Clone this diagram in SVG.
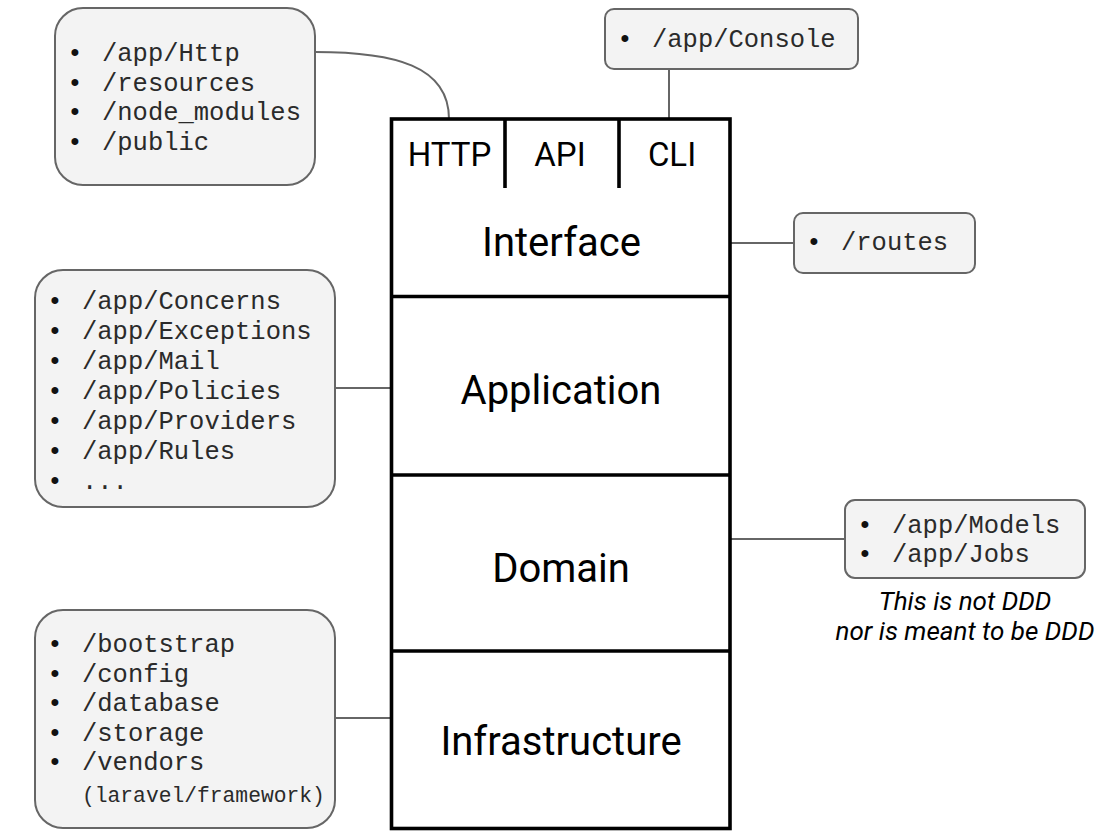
<svg xmlns="http://www.w3.org/2000/svg" width="1116" height="834" viewBox="0 0 1116 834">
  <style>
    .box { fill:#f3f3f3; stroke:#666666; stroke-width:2; }
    .conn { fill:none; stroke:#666666; stroke-width:2; }
    .frame { fill:#ffffff; stroke:#000000; stroke-width:3.6; }
    .div { fill:none; stroke:#000000; stroke-width:3.6; }
    .mono { font-family:"Liberation Mono","Courier New",monospace; font-size:25.5px; fill:#2a2a2a; }
    .small { font-size:21.3px; }
    .bul { font-family:"Liberation Mono","Courier New",monospace; font-size:25.5px; fill:#111111; text-anchor:middle; }
    .layer { font-family:Roboto,"Liberation Sans",sans-serif; font-size:40px; fill:#000000; text-anchor:middle; }
    .tab { font-family:Roboto,"Liberation Sans",sans-serif; font-size:33px; fill:#000000; text-anchor:middle; }
    .note { font-family:Roboto,"Liberation Sans",sans-serif; font-style:italic; font-size:26px; fill:#000000; text-anchor:middle; }
  </style>

  <g id="connectors">
    <path class="conn" d="M315,52 C395,52 449,66 449,119"/>
    <path class="conn" d="M669,69 V119"/>
    <path class="conn" d="M730,243 H794"/>
    <path class="conn" d="M335,388 H391"/>
    <path class="conn" d="M730,539 H845"/>
    <path class="conn" d="M335,718 H391"/>
  </g>

  <g id="stack">
    <rect class="frame" x="391.5" y="119" width="338.5" height="709.5"/>
    <line class="div" x1="505" y1="119" x2="505" y2="188"/>
    <line class="div" x1="619" y1="119" x2="619" y2="188"/>
    <line class="div" x1="391.5" y1="296.5" x2="730" y2="296.5"/>
    <line class="div" x1="391.5" y1="475" x2="730" y2="475"/>
    <line class="div" x1="391.5" y1="651" x2="730" y2="651"/>
  </g>

  <g id="tab-http"><text class="tab" x="449.5" y="166">HTTP</text></g>
  <g id="tab-api"><text class="tab" x="560" y="166">API</text></g>
  <g id="tab-cli"><text class="tab" x="672" y="166">CLI</text></g>
  <g id="layer-interface"><text class="layer" x="561.5" y="256">Interface</text></g>
  <g id="layer-application"><text class="layer" x="561" y="404">Application</text></g>
  <g id="layer-domain"><text class="layer" x="561" y="582">Domain</text></g>
  <g id="layer-infrastructure"><text class="layer" x="561" y="755">Infrastructure</text></g>

  <g id="box-http">
    <rect class="box" x="55" y="8" width="260" height="177" rx="28"/>
    <text class="bul" x="75" y="61">•</text>
    <text class="bul" x="75" y="90.5">•</text>
    <text class="bul" x="75" y="120">•</text>
    <text class="bul" x="75" y="149.5">•</text>
    <text class="mono" x="102" y="61">/app/Http</text>
    <text class="mono" x="102" y="90.5">/resources</text>
    <text class="mono" x="102" y="120">/node_modules</text>
    <text class="mono" x="102" y="149.5">/public</text>
  </g>

  <g id="box-console">
    <rect class="box" x="605" y="9" width="253" height="60" rx="9"/>
    <text class="bul" x="625" y="47">•</text>
    <text class="mono" x="652" y="47">/app/Console</text>
  </g>

  <g id="box-routes">
    <rect class="box" x="794" y="213" width="181" height="60" rx="9"/>
    <text class="bul" x="814" y="250">•</text>
    <text class="mono" x="841" y="250">/routes</text>
  </g>

  <g id="box-application">
    <rect class="box" x="35" y="270" width="300" height="237" rx="28"/>
    <text class="bul" x="55" y="309">•</text>
    <text class="bul" x="55" y="339">•</text>
    <text class="bul" x="55" y="369">•</text>
    <text class="bul" x="55" y="399">•</text>
    <text class="bul" x="55" y="429">•</text>
    <text class="bul" x="55" y="459">•</text>
    <text class="bul" x="55" y="489">•</text>
    <text class="mono" x="82" y="309">/app/Concerns</text>
    <text class="mono" x="82" y="339">/app/Exceptions</text>
    <text class="mono" x="82" y="369">/app/Mail</text>
    <text class="mono" x="82" y="399">/app/Policies</text>
    <text class="mono" x="82" y="429">/app/Providers</text>
    <text class="mono" x="82" y="459">/app/Rules</text>
    <text class="mono" x="82" y="489">...</text>
  </g>

  <g id="box-domain">
    <rect class="box" x="845" y="500" width="240" height="78" rx="10"/>
    <text class="bul" x="865" y="533">•</text>
    <text class="bul" x="865" y="562">•</text>
    <text class="mono" x="892" y="533">/app/Models</text>
    <text class="mono" x="892" y="562">/app/Jobs</text>
  </g>

  <g id="note-domain">
    <text class="note" x="965" y="610">This is not DDD</text>
    <text class="note" x="965" y="640">nor is meant to be DDD</text>
  </g>

  <g id="box-infrastructure">
    <rect class="box" x="35" y="610" width="300" height="218" rx="28"/>
    <text class="bul" x="55" y="652">•</text>
    <text class="bul" x="55" y="681.5">•</text>
    <text class="bul" x="55" y="711">•</text>
    <text class="bul" x="55" y="740.5">•</text>
    <text class="bul" x="55" y="770">•</text>
    <text class="mono" x="82" y="652">/bootstrap</text>
    <text class="mono" x="82" y="681.5">/config</text>
    <text class="mono" x="82" y="711">/database</text>
    <text class="mono" x="82" y="740.5">/storage</text>
    <text class="mono" x="82" y="770">/vendors</text>
    <text class="mono small" x="82" y="802">(laravel/framework)</text>
  </g>
</svg>
